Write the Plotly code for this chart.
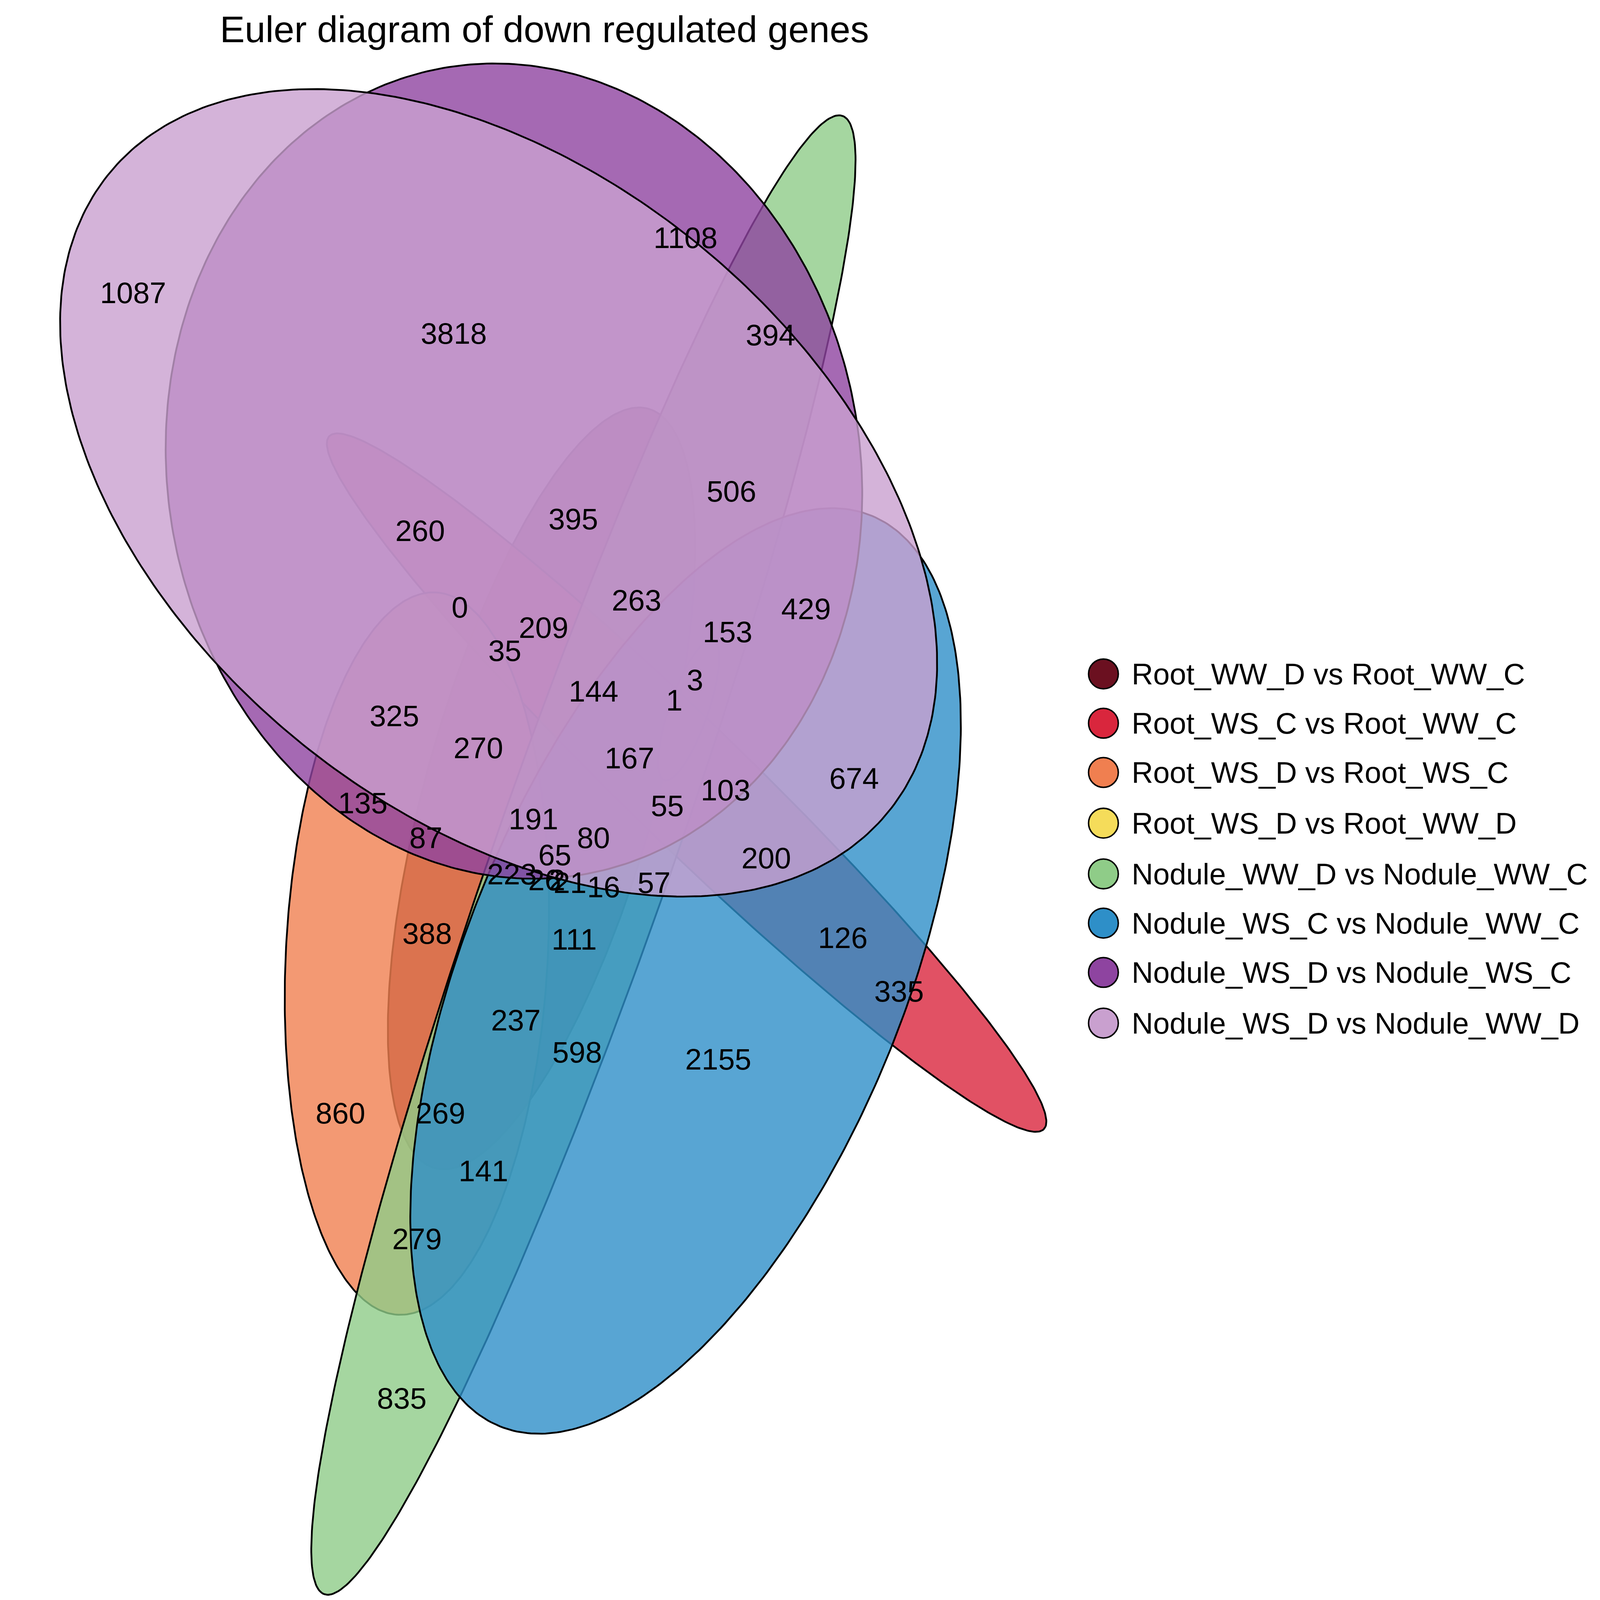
"""
Euler diagram of down regulated genes
Ellipses (center, semi-axes, angle) read from the reference picture.
"""

import numpy as np
import plotly.graph_objects as go

# ============================================================================
# DONNÉES
# ============================================================================

S = 5940 / 1560  # facteur d'échelle

ensembles = [
    # nom, couleur, cx, cy, a, b, angle (degrés, y vers le bas)
    ('Root_WW_D vs Root_WW_C', (107, 16, 32), 527, 542, 283, 108, 113.6),
    ('Root_WS_C vs Root_WW_C', (217, 38, 61), 669, 538, 424, 48, 34.1),
    ('Root_WS_D vs Root_WS_C', (240, 127, 80), 405, 656, 250, 128, 95),
    ('Root_WS_D vs Root_WW_D', (245, 220, 90), 671, 488, 54, 18, 117.8),
    ('Nodule_WW_D vs Nodule_WW_C', (143, 204, 136), 568, 588, 570, 82, 116.7),
    ('Nodule_WS_C vs Nodule_WW_C', (46, 143, 200), 668, 668, 368, 198, -53.9),
    ('Nodule_WS_D vs Nodule_WS_C', (142, 68, 160), 500, 323, 342, 280, 8),
    ('Nodule_WS_D vs Nodule_WW_D', (201, 160, 207), 485, 338, 452, 240, 21.7),
]

etiquettes = [
    ('1087', 127, 200), ('3818', 441, 228), ('1108', 668, 162), ('394', 751, 229),
    ('506', 713, 337), ('395', 558, 356), ('260', 408, 364), ('263', 620, 412),
    ('0', 447, 417), ('209', 529, 431), ('35', 491, 447), ('153', 709, 434),
    ('429', 786, 418), ('3', 677, 467), ('144', 578, 475), ('325', 383, 492),
    ('270', 465, 514), ('1', 657, 481), ('167', 613, 521), ('674', 833, 535),
    ('135', 352, 552), ('103', 707, 543), ('55', 650, 554), ('191', 519, 563),
    ('80', 578, 576), ('65', 540, 588), ('87', 414, 576), ('223', 498, 601),
    ('26', 530, 605), ('2', 542, 605), ('21', 555, 607), ('16', 588, 610),
    ('57', 637, 607), ('200', 747, 590), ('388', 415, 642), ('111', 559, 646),
    ('126', 822, 645), ('335', 877, 682), ('237', 502, 702), ('598', 562, 724),
    ('2155', 700, 729), ('860', 330, 766), ('269', 428, 766), ('141', 470, 806),
    ('279', 405, 853), ('835', 390, 963),
]

legende_y = [463, 497, 531, 566, 601, 635, 669, 704]

# ============================================================================
# CRÉATION DU GRAPHIQUE
# ============================================================================

fig = go.Figure()
t = np.linspace(0, 2 * np.pi, 400)

for nom, (r, g, b_), cx, cy, a, b, ang in ensembles:
    th = np.radians(ang)
    x = cx + a * np.cos(t) * np.cos(th) - b * np.sin(t) * np.sin(th)
    y = cy + a * np.cos(t) * np.sin(th) + b * np.sin(t) * np.cos(th)
    fig.add_trace(go.Scatter(
        x=x, y=y, mode='lines', fill='toself', fillcolor=f'rgba({r},{g},{b_},0.8)',
        line=dict(color='black', width=1.2 * S), showlegend=False, hoverinfo='skip'
    ))

# Légende dessinée à la main (pastilles + textes)
fig.add_trace(go.Scatter(
    x=[1077] * len(ensembles), y=legende_y, mode='markers', showlegend=False,
    marker=dict(symbol='circle', size=20 * S,
                color=[f'rgb({r},{g},{b_})' for _, (r, g, b_), *_ in ensembles],
                line=dict(color='black', width=1 * S)),
    hoverinfo='skip'
))
for (nom, *_), y in zip(ensembles, legende_y):
    fig.add_annotation(x=1104, y=y, text=nom, showarrow=False, xanchor='left',
                       font=dict(size=20 * S, color='black'))

for texte, x, y in etiquettes:
    fig.add_annotation(x=x, y=y, text=texte, showarrow=False,
                       font=dict(size=20 * S, color='black'))

fig.add_annotation(
    text='Euler diagram of down regulated genes', x=530, y=18, showarrow=False,
    font=dict(size=25 * S, color='black')
)

# ============================================================================
# PERSONNALISATION
# ============================================================================

fig.update_layout(
    plot_bgcolor='white',
    paper_bgcolor='white',
    margin=dict(l=0, r=0, t=0, b=0),
    xaxis=dict(range=[0, 1560], visible=False),
    yaxis=dict(range=[1100, 0], visible=False),
    font=dict(family='Liberation Sans, Arial', color='black'),
    showlegend=False
)

# ============================================================================
# EXPORT
# ============================================================================

fig.write_html("out.html")
